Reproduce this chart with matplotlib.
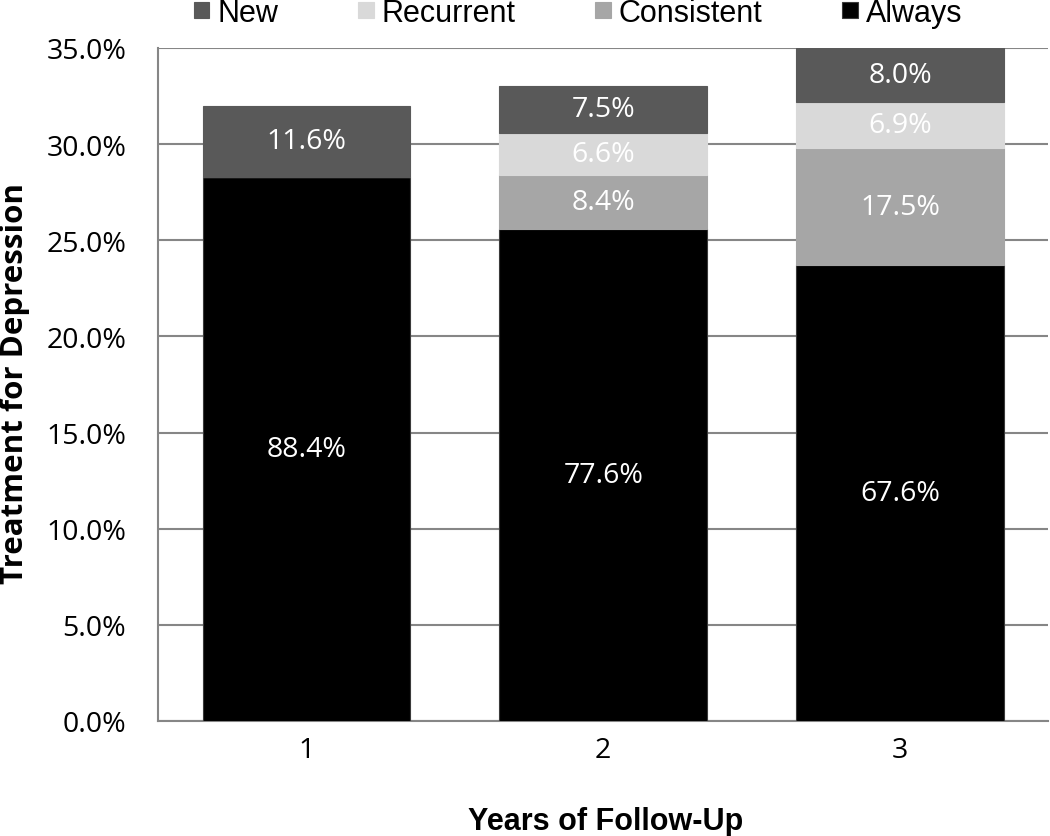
import matplotlib
matplotlib.use("Agg")
import matplotlib.pyplot as plt
import numpy as np

# --- Dados ---
years = ["1", "2", "3"]
series = ["Always", "Consistent", "Recurrent", "New"]
always = [28.3, 25.6, 23.7]
consistent = [0.0, 2.8, 6.1]
recurrent = [0.0, 2.2, 2.4]
new = [3.7, 2.4, 2.8]
label_always = ["88.4%", "77.6%", "67.6%"]
label_consistent = ["", "8.4%", "17.5%"]
label_recurrent = ["", "6.6%", "6.9%"]
label_new = ["11.6%", "7.5%", "8.0%"]
yticks = [0, 5, 10, 15, 20, 25, 30, 35]

colors = {"Always": "#000000", "Consistent": "#a6a6a6",
          "Recurrent": "#d9d9d9", "New": "#595959"}

fig = plt.figure(figsize=(10.5, 8.37), dpi=100)
ax = fig.add_axes([0.1505, 0.1374, 0.848, 0.8041])

x = np.arange(len(years))
values = {"Always": always, "Consistent": consistent,
          "Recurrent": recurrent, "New": new}
labels = {"Always": label_always, "Consistent": label_consistent,
          "Recurrent": label_recurrent, "New": label_new}

bottom = np.zeros(len(years))
handles = {}
for s in series:
    vals = np.array(values[s])
    bars = ax.bar(x, vals, width=0.7, bottom=bottom, color=colors[s],
                  edgecolor="#3a3a3a" if s == "Always" else colors[s],
                  linewidth=0.8, label=s, zorder=3)
    handles[s] = bars
    for xi, v, b, t in zip(x, vals, bottom, labels[s]):
        if t:
            ax.text(xi, b + v / 2, t, ha="center", va="center", color="white",
                    fontsize=20.5, family="Open Sans", zorder=4)
    bottom += vals

ax.set_xlim(-0.5, 2.5)
ax.set_ylim(0, 35)
ax.set_yticks(yticks)
ax.set_yticklabels([f"{t:.1f}%" for t in yticks], family="Open Sans", fontsize=20.5)
ax.set_xticks(x)
ax.set_xticklabels(years, family="Open Sans", fontsize=20.5)
ax.tick_params(length=0)
ax.tick_params(axis="y", pad=23)
ax.tick_params(axis="x", pad=11)

ax.grid(axis="y", color="#868686", linewidth=1.5, zorder=0)
for side in ["top", "right"]:
    ax.spines[side].set_visible(False)
for side in ["left", "bottom"]:
    ax.spines[side].set_color("#868686")
    ax.spines[side].set_linewidth(1.5)

fig.text(15 / 1050, 1 - 384 / 837, "Treatment for Depression", rotation=90,
         ha="center", va="center", fontsize=22.5, fontweight="bold",
         family="Open Sans")
fig.text(606 / 1050, 1 - 830 / 837, "Years of Follow-Up", ha="center",
         va="baseline", fontsize=22, fontweight="bold",
         family="Liberation Sans")

order = ["New", "Recurrent", "Consistent", "Always"]
fig.legend([handles[s] for s in order], order, loc="center", ncol=4,
           bbox_to_anchor=(578 / 1050, 1 - 14 / 837), frameon=False,
           prop={"family": "Liberation Sans", "size": 22},
           handlelength=0.52, handleheight=0.45, handletextpad=0.26,
           columnspacing=2.6, borderpad=0)

fig.savefig("out.png", dpi=100)
